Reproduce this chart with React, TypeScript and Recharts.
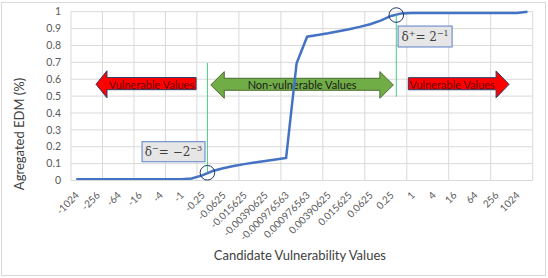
import {
  LineChart,
  Line,
  XAxis,
  YAxis,
  CartesianGrid,
  ReferenceLine,
  ReferenceDot,
  ReferenceArea,
} from 'recharts'

// candidate values on the x axis (powers of two, plus the unlabeled middle and end slots)
const categories = [
  '-1024', '-512', '-256', '-128', '-64', '-32', '-16', '-8', '-4', '-2', '-1',
  '-0.5', '-0.25', '-0.125', '-0.0625', '-0.03125', '-0.015625', '-0.0078125',
  '-0.00390625', '-0.001953125', '-0.000976563',
  '0',
  '0.000976563', '0.001953125', '0.00390625', '0.0078125', '0.015625', '0.03125',
  '0.0625', '0.125', '0.25', '0.5', '1', '2', '4', '8', '16', '32', '64', '128',
  '256', '512', '1024',
  '2048',
]

// aggregated EDM for each candidate value
const edm = [
  0.007, 0.007, 0.007, 0.007, 0.007, 0.007, 0.007, 0.007, 0.007, 0.007, 0.008,
  0.012, 0.03, 0.056, 0.073, 0.086, 0.097, 0.107, 0.116, 0.125, 0.134,
  0.695,
  0.852, 0.862, 0.872, 0.884, 0.896, 0.91, 0.926, 0.947, 0.975, 0.99,
  0.992, 0.992, 0.992, 0.992, 0.992, 0.992, 0.992, 0.992, 0.992, 0.992, 0.992,
  1.0,
]

const yTicks = [0, 0.1, 0.2, 0.3, 0.4, 0.5, 0.6, 0.7, 0.8, 0.9, 1]

const data = categories.map((c, i) => ({ i, c, edm: edm[i] }))
const labelTicks = categories.map((_, i) => i).filter((i) => i % 2 === 0)
const gridTicks = categories.map((_, i) => i - 0.5).concat(categories.length - 0.5)

const FONT = 'Lato, "Open Sans", sans-serif'

function XTick({ x, y, payload }: any) {
  return (
    <g transform={`translate(${x + 1},${y + 11})`}>
      <text transform="rotate(-45)" textAnchor="end" dy="0.35em" fontSize={10} fill="#595959" fontFamily={FONT}>
        {categories[payload.value]}
      </text>
    </g>
  )
}

function Arrow({ x, y, width, height, head, dir, fill, stroke, label, color }: any) {
  const t = y + height * 0.25
  const b = y + height * 0.7
  const m = y + height / 2
  const r = x + width
  const yb = y + height
  let d = ''
  let bx1 = x
  let bx2 = r
  if (dir === 'left') {
    d = `M${x},${m} L${x + head},${y} L${x + head},${t} L${r},${t} L${r},${b} L${x + head},${b} L${x + head},${yb} Z`
    bx1 = x + head
  } else if (dir === 'right') {
    d = `M${r},${m} L${r - head},${y} L${r - head},${t} L${x},${t} L${x},${b} L${r - head},${b} L${r - head},${yb} Z`
    bx2 = r - head
  } else {
    d = `M${x},${m} L${x + head},${y} L${x + head},${t} L${r - head},${t} L${r - head},${y} L${r},${m} L${r - head},${yb} L${r - head},${b} L${x + head},${b} L${x + head},${yb} Z`
    bx1 = x + head
    bx2 = r - head
  }
  return (
    <g>
      <path d={d} fill={fill} stroke={stroke} strokeWidth={1} />
      <text x={(bx1 + bx2) / 2} y={m} textAnchor="middle" dominantBaseline="central" fontSize={11} fill={color} fontFamily={FONT}>
        {label}
      </text>
    </g>
  )
}

function DeltaBox({ x, y, width, height, sign, exp, neg }: any) {
  return (
    <g>
      <rect x={x} y={y} width={width} height={height} fill="#e7e6e6" stroke="#5b7fc7" strokeWidth={1} />
      <text x={x + width / 2} y={y + height / 2 + 4} textAnchor="middle" fontSize={12} fill="#404040" fontFamily='"DejaVu Serif", serif'>
        δ
        <tspan dy={-5} fontSize={8}>{sign}</tspan>
        <tspan dy={5}>{neg ? '= −2' : '= 2'}</tspan>
        <tspan dy={-5} fontSize={8}>{exp}</tspan>
      </text>
    </g>
  )
}

export default function App() {
  return (
    <div style={{ position: 'absolute', left: 0, top: 0, width: 548, height: 278, background: '#fff' }}>
      <div style={{ position: 'absolute', left: 1, top: 2, width: 543, height: 272, border: '1px solid #d9d9d9' }} />
      <LineChart width={548} height={278} data={data} margin={{ top: 11.7, right: 15.3, left: 11, bottom: 12.5 }}>
        <XAxis xAxisId="grid" type="number" dataKey="i" domain={[-0.5, categories.length - 0.5]} ticks={gridTicks} hide />
        <CartesianGrid xAxisId="grid" stroke="#d9d9d9" strokeWidth={1} />
        <XAxis
          type="number"
          dataKey="i"
          domain={[-0.5, categories.length - 0.5]}
          ticks={labelTicks}
          interval={0}
          tick={<XTick />}
          tickLine={false}
          tickSize={0}
          axisLine={{ stroke: '#d9d9d9' }}
          height={85}
          label={{
            content: ({ viewBox }: any) => (
              <text
                x={viewBox.x + viewBox.width / 2 - 2}
                y={260}
                textAnchor="middle"
                fontSize={13}
                fill="#404040"
                fontFamily={FONT}
              >
                Candidate Vulnerability Values
              </text>
            ),
          }}
        />
        <YAxis
          domain={[0, 1]}
          ticks={yTicks}
          interval={0}
          axisLine={false}
          tickLine={false}
          tickMargin={4}
          width={60}
          tick={{ fontSize: 10.5, fill: '#595959', fontFamily: FONT }}
          label={{
            content: ({ viewBox }: any) => (
              <text
                x={viewBox.x + 8}
                y={134}
                transform={`rotate(-90 ${viewBox.x + 8} 134)`}
                textAnchor="middle"
                dominantBaseline="central"
                fontSize={13}
                fill="#404040"
                fontFamily={FONT}
              >
                Agregated EDM (%)
              </text>
            ),
          }}
        />
        <Line
          type="linear"
          dataKey="edm"
          stroke="#4472c4"
          strokeWidth={2.5}
          dot={false}
          isAnimationActive={false}
        />
        <ReferenceLine segment={[{ x: 12.5, y: 0.05 }, { x: 12.5, y: 0.696 }]} stroke="#4cc98a" strokeWidth={1} />
        <ReferenceLine segment={[{ x: 30.5, y: 0.496 }, { x: 30.5, y: 0.98 }]} stroke="#4cc98a" strokeWidth={1} />
        <ReferenceDot x={12.5} y={0.046} r={7.3} fill="none" stroke="#1f3864" strokeWidth={1} />
        <ReferenceDot x={30.5} y={0.98} r={7.3} fill="none" stroke="#1f3864" strokeWidth={1} />
        <ReferenceArea
          x1={1.88}
          x2={11.42}
          y1={0.49}
          y2={0.65}
          shape={(p: any) => (
            <Arrow {...p} head={11} dir="left" fill="#ff0000" stroke="#2f3c6a" label="Vulnerable Values" color="#6b0000" />
          )}
        />
        <ReferenceArea
          x1={12.82}
          x2={30.22}
          y1={0.487}
          y2={0.645}
          shape={(p: any) => (
            <Arrow {...p} head={13.5} dir="both" fill="#70ad47" stroke="#4d6b30" label="Non-vulnerable Values" color="#1a1a1a" />
          )}
        />
        <ReferenceArea
          x1={31.65}
          x2={41.25}
          y1={0.49}
          y2={0.649}
          shape={(p: any) => (
            <Arrow {...p} head={13} dir="right" fill="#ff0000" stroke="#2f3c6a" label="Vulnerable Values" color="#6b0000" />
          )}
        />
        <ReferenceArea
          x1={6.27}
          x2={12.27}
          y1={0.111}
          y2={0.23}
          shape={(p: any) => <DeltaBox {...p} sign="−" exp="−3" neg />}
        />
        <ReferenceArea
          x1={30.67}
          x2={35.82}
          y1={0.791}
          y2={0.915}
          shape={(p: any) => <DeltaBox {...p} sign="+" exp="−1" />}
        />
      </LineChart>
    </div>
  )
}
